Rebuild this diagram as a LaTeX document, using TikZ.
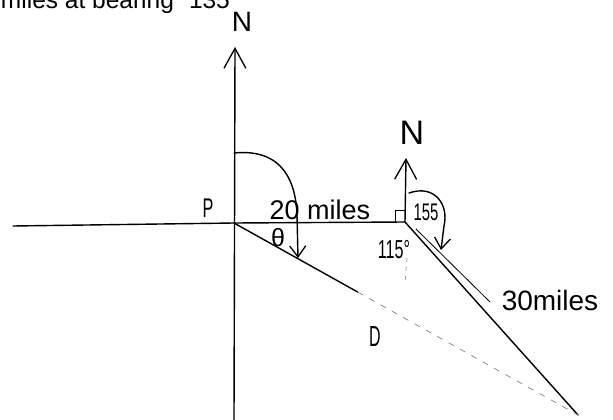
\documentclass[tikz,border=0pt]{standalone}
\usepackage{fontspec}
\setmainfont{Liberation Sans}
\usetikzlibrary{arrows.meta,calc}
\begin{document}
\begin{tikzpicture}[x=1pt,y=-1pt,
  ln/.style={line width=1.4pt, line cap=round, line join=round},
  thinln/.style={line width=0.8pt, line cap=round},
  barb/.style={-{Straight Barb[length=11pt,width=16pt,line width=1.3pt]}},
  nbarb/.style={-{Straight Barb[length=20pt,width=22pt,line width=1.3pt]}},
  lbl/.style={inner sep=0pt, outer sep=0pt}]
\useasboundingbox (0,0) rectangle (613,420);
\clip (0,0) rectangle (613,420);
% top text (cut off at the top edge, as in the reference)
\node[lbl, anchor=base west, font=\fontsize{24.5}{28}\selectfont] (t1) at (1,9) {miles at bearing};
\node[lbl, anchor=base west, font=\fontsize{24.5}{28}\selectfont] (t2) at (189,9) {135};
% key points
\coordinate (P) at (234,223);
\coordinate (Q) at (405,222);
\coordinate (R) at (578,415);
\coordinate (L) at (13,226);
\coordinate (PB) at (234,420);
\coordinate (PN) at (235,47);
\coordinate (QN) at (406,158);
\coordinate (M) at ($(P)!0.36!(R)$);
% labels
\node[lbl, font=\fontsize{28}{30}\selectfont] (n1) at (242,22) {N};
\node[lbl, font=\fontsize{34}{36}\selectfont] (n2) at (412,133) {N};
\node[lbl, font=\fontsize{27}{29}\selectfont] (lp) at (208,208) {\scalebox{0.6}[1]{P}};
\node[lbl, font=\fontsize{27}{29}\selectfont] (l20) at (320,210) {20 miles};
\node[lbl, font=\fontsize{25}{27}\selectfont] (lth) at (278,238) {θ};
\node[lbl, font=\fontsize{26}{28}\selectfont] (l115) at (394,250) {\scalebox{0.62}[1]{115°}};
\node[lbl, font=\fontsize{24}{26}\selectfont] (l155) at (426,212) {\scalebox{0.62}[1]{155}};
\node[lbl, font=\fontsize{28}{30}\selectfont] (l30) at (550,300) {30miles};
\node[lbl, font=\fontsize{29}{31}\selectfont] (lD) at (375,337) {\scalebox{0.55}[1]{D}};
% axes
\draw[ln, nbarb] (PB) -- (PN);
\draw[ln, nbarb] (Q) -- (QN);
% lines
\draw[ln] (L) -- (P) -- (Q) -- (R);
\draw[ln] (P) -- (M);
\draw[line width=0.7pt, gray, dash pattern=on 6pt off 7pt] (M) -- (R);
% right angle mark
\coordinate (S1) at ($(Q)+(-10,0)$);
\draw[thinln] (S1) -- ++(0,-12) -- ++(10,0);
% bearing arcs
\coordinate (A1) at (234,153);
\coordinate (A1e) at (298,258);
\draw[ln, barb] (A1) .. controls (285,148) and (296,185) .. (297,215) -- (A1e);
\coordinate (A2) at (409,193);
\coordinate (A2e) at (441,250);
\draw[ln, barb] (A2) .. controls (435,184) and (449,205) .. (444,226) -- (A2e);
% pointer to 30 miles
\coordinate (B1) at (416,229);
\coordinate (B2) at (490,302);
\draw[thinln] (B1) -- (B2);
% faint dashed mark below Q
\coordinate (C1) at (407,258);
\coordinate (C2) at (405,282);
\draw[line width=0.6pt, gray, dash pattern=on 4pt off 5pt] (C1) -- (C2);
\end{tikzpicture}
\end{document}
